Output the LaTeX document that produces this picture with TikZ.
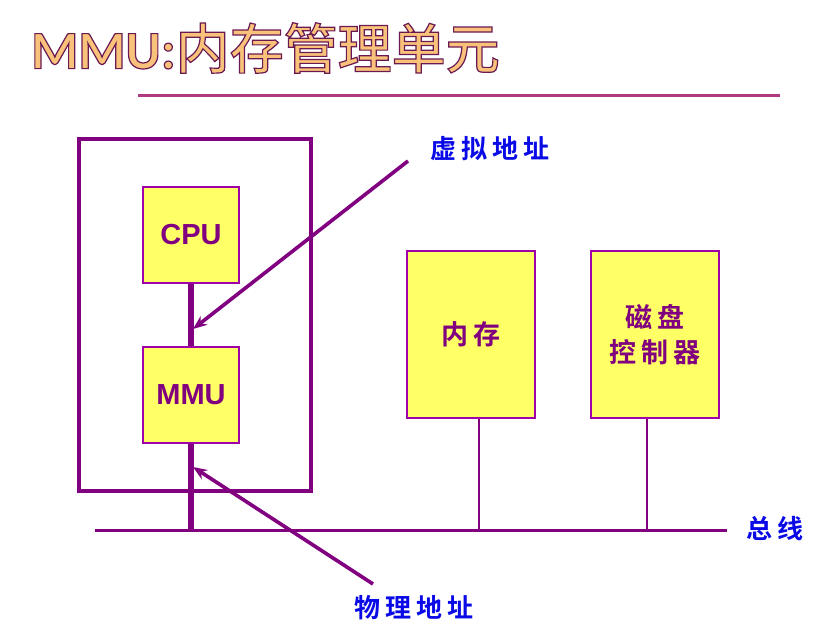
\documentclass[tikz,border=0pt]{standalone}
\usepackage{fontspec}
\setmainfont{Liberation Sans}
\newfontfamily\cjkb[LetterSpace=20]{Noto Sans CJK SC Bold}
\newfontfamily\cjkt{Noto Sans CJK SC Medium}
\newfontfamily\latb{Carlito}
\usetikzlibrary{arrows.meta}
\definecolor{pur}{HTML}{800080}
\definecolor{boxline}{HTML}{A000A8}
\definecolor{boxfill}{HTML}{FFFF66}
\definecolor{lblue}{HTML}{0A0AE6}
\definecolor{uline}{HTML}{B03A80}
\definecolor{tfill}{HTML}{F9C27A}
\newcommand{\outlinedtext}[1]{%
  \special{pdf:literal direct 2 Tr 1.2 w 0.42 0.1 0.32 RG}#1\special{pdf:literal direct 0 Tr}}
\tikzset{
  unitbox/.style={draw=boxline, fill=boxfill, line width=2.2pt, inner sep=0pt,
     font=\fontsize{29}{32}\selectfont\bfseries, text=pur},
  bigbox/.style={unitbox, minimum width=128pt, minimum height=167pt,
     font=\fontsize{27}{35}\selectfont\cjkb, text=pur, align=center},
  outerbox/.style={draw=pur, line width=4pt, minimum width=232pt, minimum height=352pt, inner sep=0pt},
  bus/.style={draw=pur, line width=3pt},
  thickv/.style={draw=pur, line width=5.5pt},
  thinv/.style={draw=pur, line width=2.3pt},
  ptr/.style={draw=pur, line width=3.6pt, -{Stealth[length=14pt,width=11pt]}},
  lbl/.style={text=lblue, font=\fontsize{26}{30}\selectfont\cjkb, inner sep=0pt}
}
\begin{document}
\begin{tikzpicture}[x=1pt,y=-1pt]
\useasboundingbox (0,0) rectangle (830,640);
% title
\node[inner sep=0pt, anchor=west, text=tfill] (title) at (31,48)
  {\fontsize{54}{58}\selectfont\outlinedtext{{\latb\bfseries MMU:}{\cjkt 内存管理单元}}};
\draw[uline, line width=3pt] (138,95) coordinate (ul1) -- (780,95) coordinate (ul2);
% outer box
\node[outerbox] (outer) at (195,315) {};
% CPU, MMU
\node[unitbox, minimum width=96pt, minimum height=96pt] (cpu) at (191,235) {CPU};
\node[unitbox, minimum width=96pt, minimum height=96pt] (mmu) at (191,395) {MMU};
% memory and disk
\node[bigbox] (mem) at (471,334.5) {内存};
\node[bigbox] (disk) at (655,334.5) {磁盘\\[0pt]控制器};
% bus
\coordinate (busL) at (95,530);
\coordinate (busR) at (727,530);
\draw[bus] (busL) -- (busR);
\node[lbl, anchor=west] (buslbl) at (746,529) {总线};
% vertical connections
\draw[thickv] (cpu.south) -- (mmu.north);
\draw[thickv] (mmu.south) -- (mmu.south |- busL);
\draw[thinv] ([xshift=8pt]mem.south) -- ([xshift=8pt]mem.south |- busL);
\draw[thinv] ([xshift=-8pt]disk.south) -- ([xshift=-8pt]disk.south |- busL);
% address labels and arrows
\node[lbl] (vaddr) at (490,149) {虚拟地址};
\node[lbl] (paddr) at (414,608) {物理地址};
\coordinate (vs) at (408,161);
\coordinate (vt) at (193,329);
\coordinate (ps) at (373,584);
\coordinate (pt) at (193,467);
\draw[ptr] (vs) -- (vt);
\draw[ptr] (ps) -- (pt);
\end{tikzpicture}
\end{document}
